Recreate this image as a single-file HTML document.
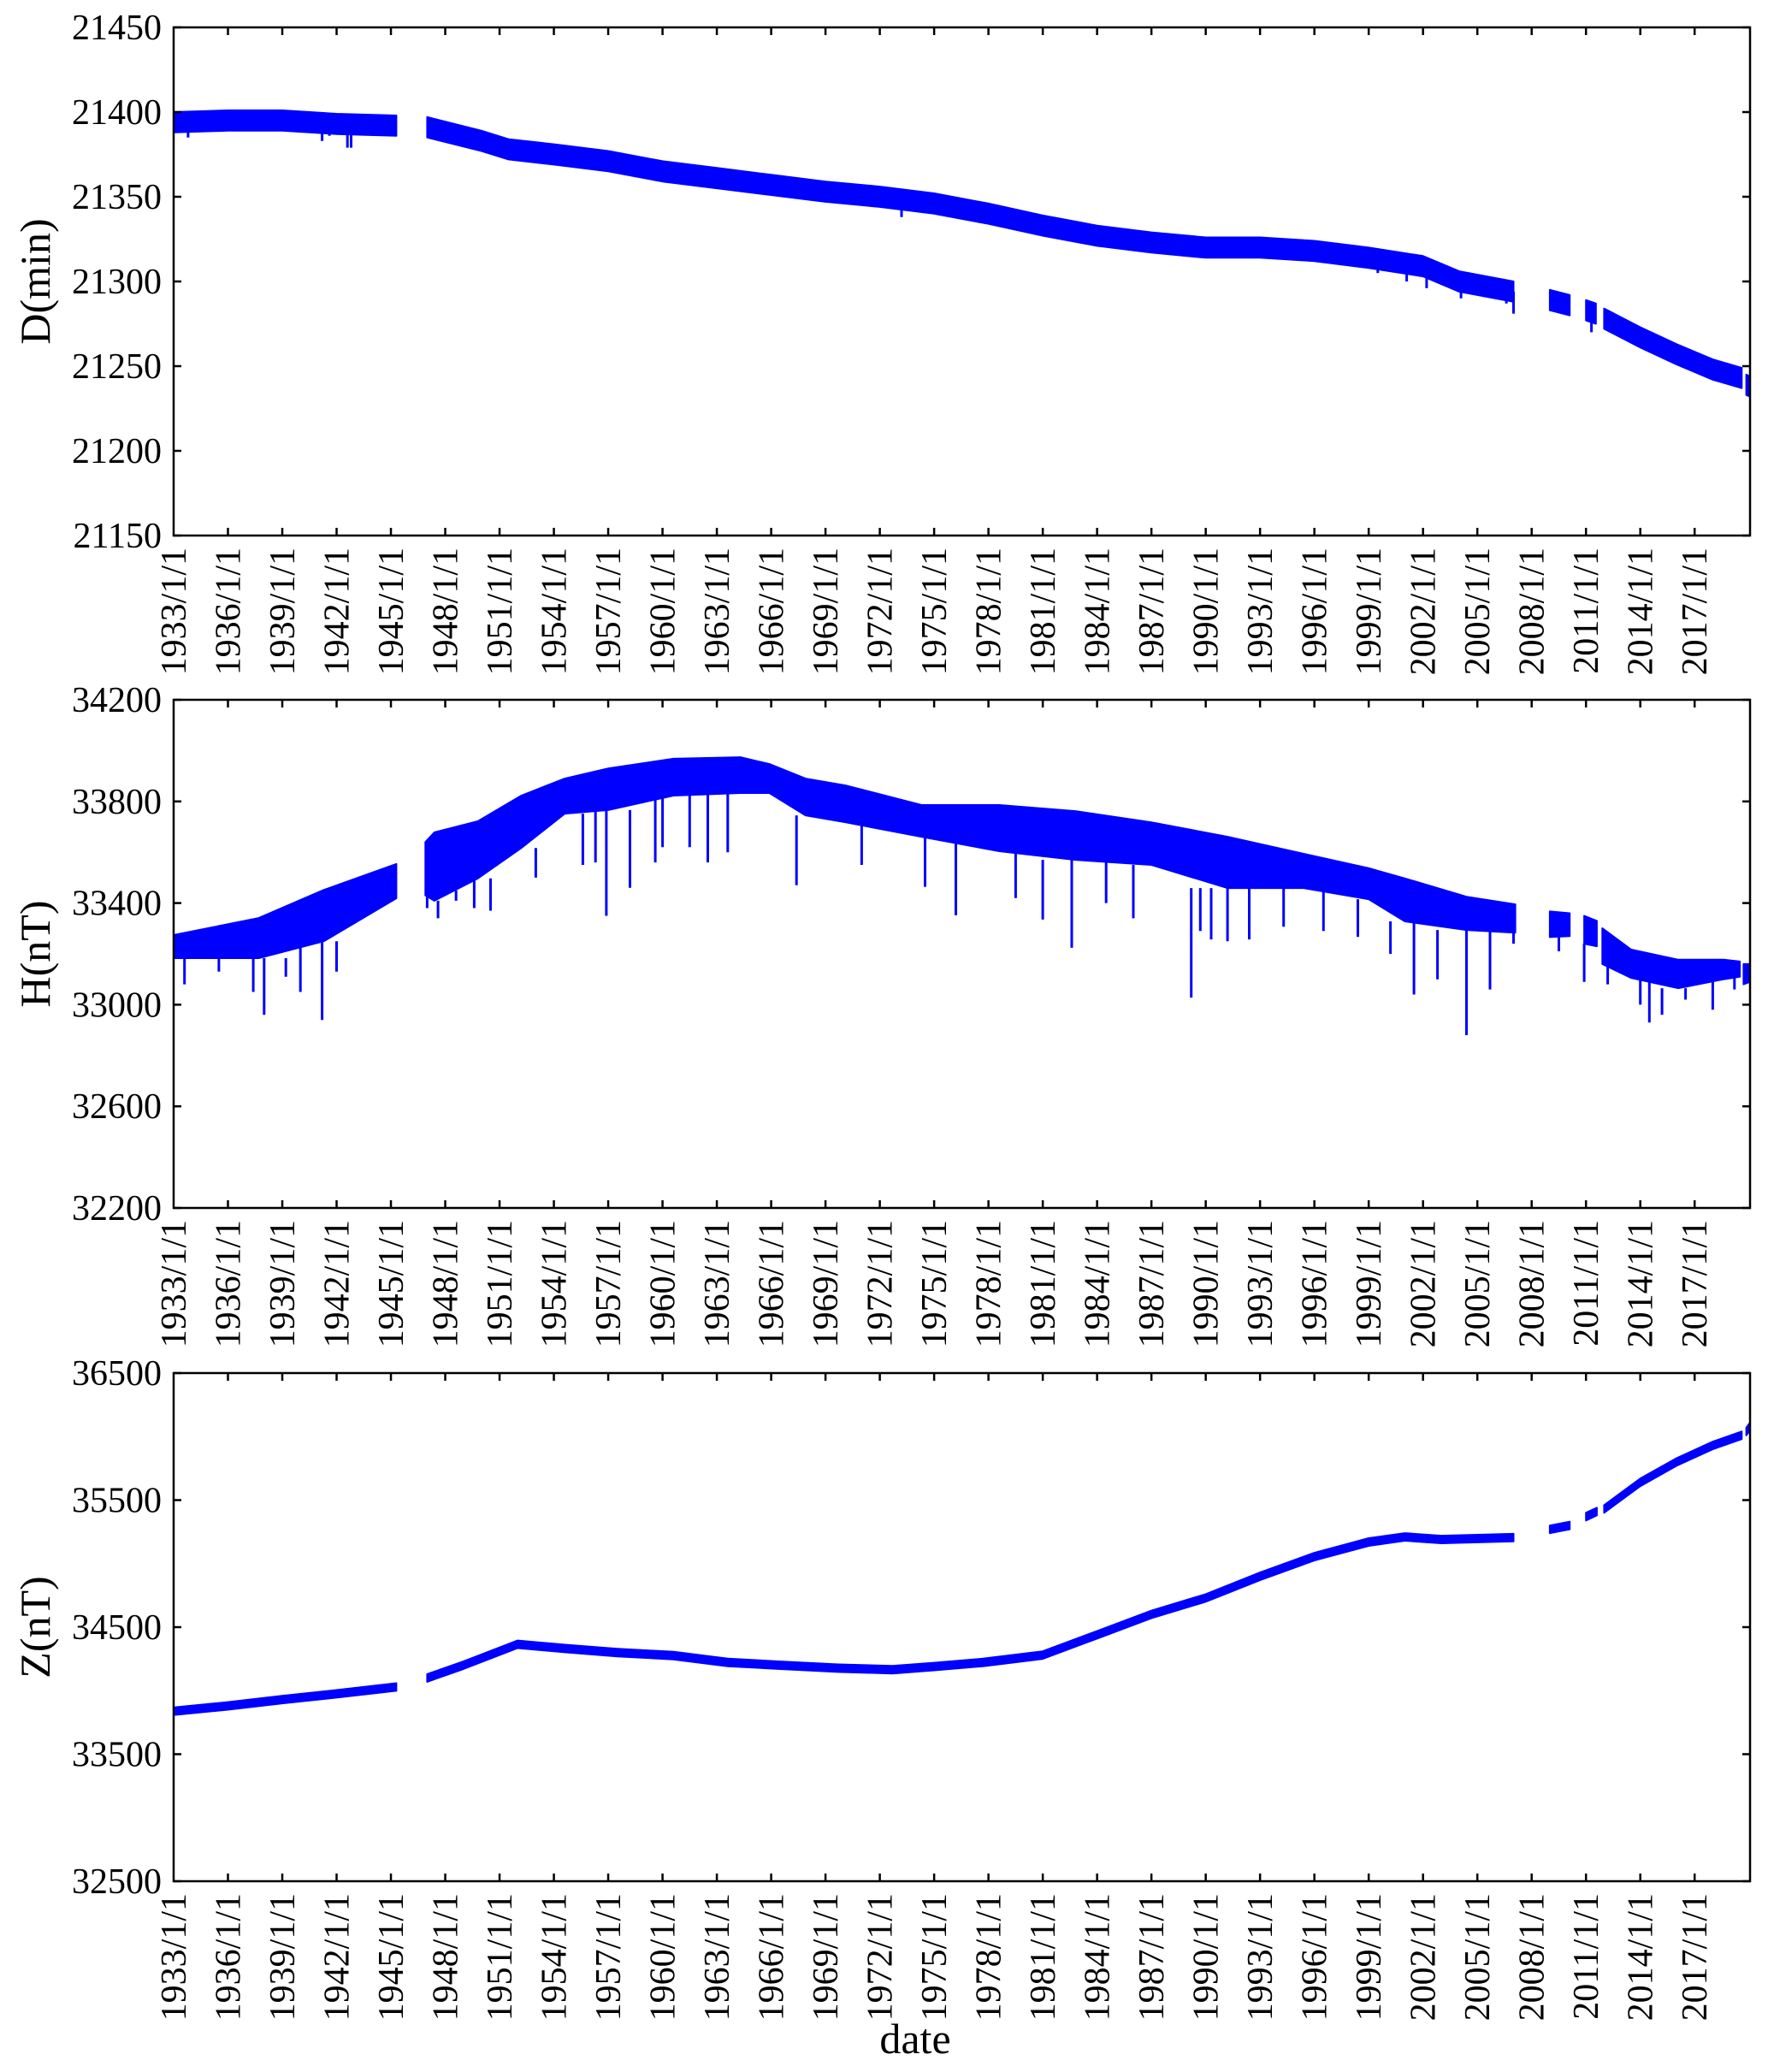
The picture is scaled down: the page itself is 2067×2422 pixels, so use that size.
<!DOCTYPE html>
<html><head><meta charset="utf-8"><style>
html,body{margin:0;padding:0;background:#fff;}
svg{display:block;font-family:"Liberation Serif","DejaVu Serif",serif;}
</style></head><body>
<svg id="fig" width="2067" height="2422" viewBox="0 0 2067 2422" xmlns="http://www.w3.org/2000/svg"></svg>
<script>
// ---------- shared axis data ----------
const xTickYears = [1933,1936,1939,1942,1945,1948,1951,1954,1957,1960,1963,1966,1969,1972,1975,1978,1981,1984,1987,1990,1993,1996,1999,2002,2005,2008,2011,2014,2017];
const xMin = 1933, xMax = 2020.06;

// ---------- panel D ----------
const dTicks = [21150,21200,21250,21300,21350,21400,21450];
const dYears = [1933,1936,1939,1942,1945.3,NaN,1947,1950,1951.5,1954,1957,1960,1963,1966,1969,1972,1975,1978,1981,1984,1987,1990,1993,1996,1999,2002,2004,2007.0,NaN,2009.0,2010.1,NaN,2011.0,2011.55,NaN,2012.0,2014,2016,2018,2019.6,NaN,2019.85,2020.06];
const dVals  = [21394,21395,21395,21393,21392,NaN,21391,21383,21378,21375,21371,21365,21361,21357,21353,21350,21346,21340,21333,21327,21323,21320,21320,21318,21314,21309,21300,21294,NaN,21289,21286,NaN,21283,21281,NaN,21278,21267,21257,21248,21243,NaN,21239,21238];
const dSpikeYears = [1933.8,1941.2,1941.6,1942.6,1942.8,1944.5,1958.5,1973.2,1999.5,2001.1,2002.2,2004.1,2006.6,2007.0,2011.3];
const dSpikeVals  = [21385,21383,21386,21379,21379,21386,21366,21338,21305,21300,21296,21290,21287,21281,21270];

// ---------- panel H ----------
const hTicks = [32200,32600,33000,33400,33800,34200];
const hYears = [1933,1937.7,1941.3,1945.3,NaN,1946.9,1947.4,1949.8,1952.2,1954.6,1957,1960.6,1964.3,1965.9,1967.9,1970.1,1974.3,1978.6,1982.8,1987,1991.2,1995.4,1999,2001,2004.4,2007.1,NaN,2009.0,2010.1,NaN,2010.9,2011.6,NaN,2011.9,2013.5,2016.1,2018.6,2019.5,NaN,2019.7,2020.06];
const hTop = [33274,33341,33452,33554,NaN,33640,33678,33722,33823,33890,33930,33968,33974,33947,33890,33863,33786,33786,33762,33718,33661,33594,33537,33497,33425,33395,NaN,33367,33360,NaN,33350,33330,NaN,33301,33217,33177,33177,33170,NaN,33160,33160];
const hBot = [33183,33183,33250,33419,NaN,33430,33409,33497,33617,33752,33766,33823,33833,33833,33745,33718,33661,33604,33570,33550,33459,33459,33415,33328,33294,33283,NaN,33266,33270,NaN,33240,33230,NaN,33160,33105,33065,33100,33110,NaN,33080,33090];
const hSpikeYears = [1933.6,1935.5,1937.4,1938.0,1939.2,1940.0,1941.2,1942.0,1947.0,1947.6,1948.6,1949.6,1950.5,1953.0,1955.6,1956.3,1956.9,1958.2,1959.6,1960.0,1961.5,1962.5,1963.6,1967.4,1971,1974.5,1976.2,1979.5,1981,1982.6,1984.5,1986,1989.2,1989.7,1990.3,1991.2,1992.4,1994.3,1996.5,1998.4,2000.2,2001.5,2002.8,2004.4,2005.7,2007.0,2009.5,2010.9,2012.2,2014.0,2014.5,2015.2,2016.5,2018.0,2019.2];
const hSpikeVals  = [33080,33130,33050,32960,33110,33050,32940,33130,33380,33340,33450,33380,33370,33500,33550,33560,33350,33460,33560,33620,33620,33560,33600,33470,33550,33464,33352,33420,33335,33224,33400,33340,33028,33290,33257,33250,33257,33307,33290,33267,33200,33040,33100,32880,33060,33240,33210,33090,33080,33000,32930,32960,33020,32980,33060];

// ---------- panel Z ----------
const zTicks = [32500,33500,34500,35500,36500];
const zYears = [1933.1,1936,1939,1942,1945.3,NaN,1947.0,1949,1952.0,1954.6,1957.5,1960.6,1963.6,1966.5,1969.7,1972.7,1975,1977.7,1981,1984,1987,1990,1993,1996,1999,2001,2003,2007.0,NaN,2009.0,2010.1,NaN,2011.0,2011.6,NaN,2012.0,2014,2016,2018,2019.6,NaN,2019.85,2020.06];
const zVals  = [33840,33880,33930,33975,34029,NaN,34100,34200,34365,34332,34300,34276,34222,34200,34177,34165,34190,34222,34280,34440,34600,34730,34900,35055,35170,35210,35190,35205,NaN,35270,35300,NaN,35370,35410,NaN,35430,35640,35800,35930,36010,NaN,36040,36080];

// ---------- layout ----------
const L = 203, R = 2046;
const panels = [
  {name:'declination', title:'D(min)', top:32, bot:626, ticks:dTicks, min:21150, max:21450},
  {name:'horizontal', title:'H(nT)', top:818, bot:1412, ticks:hTicks, min:32200, max:34200},
  {name:'vertical', title:'Z(nT)', top:1605, bot:2199, ticks:zTicks, min:32500, max:36500}
];
const NS = 'http://www.w3.org/2000/svg';
const svg = document.getElementById('fig');
function mk(tag, attrs, parent){
  const e = document.createElementNS(NS, tag);
  for (const k in attrs) e.setAttribute(k, attrs[k]);
  (parent||svg).appendChild(e);
  return e;
}
const xs = y => L + (y - xMin) / (xMax - xMin) * (R - L);
function ysFor(p){ return v => p.bot - (v - p.min) / (p.max - p.min) * (p.bot - p.top); }

function bandPath(years, top, bot, ys){
  let d = '', segs = [], cur = [];
  for (let i=0;i<years.length;i++){
    if (isNaN(years[i])) { if (cur.length) segs.push(cur); cur=[]; }
    else cur.push(i);
  }
  if (cur.length) segs.push(cur);
  segs.forEach(s=>{
    s.forEach((i,k)=>{ d += (k?'L':'M') + xs(years[i]).toFixed(1)+','+ys(top[i]).toFixed(1); });
    for (let k=s.length-1;k>=0;k--){ const i=s[k]; d += 'L'+xs(years[i]).toFixed(1)+','+ys(bot[i]).toFixed(1); }
    d += 'Z';
  });
  return d;
}

panels.forEach((p, idx) => {
  const ys = ysFor(p);
  const g = mk('g', {});
  
  

  let dpath;
  if (idx === 0) {
    const up = dVals.map(v=>v+6), lo = dVals.map(v=>v-6);
    dpath = bandPath(dYears, up, lo, ys);
  } else if (idx === 1) {
    dpath = bandPath(hYears, hTop, hBot, ys);
  } else {
    const up = zVals.map(v=>v+30), lo = zVals.map(v=>v-30);
    dpath = bandPath(zYears, up, lo, ys);
  }
  const series = mk('path', {d:dpath, fill:'#0000ff', stroke:'#0000ff', 'stroke-width':2, 'stroke-linejoin':'round'}, g);
  
  

  if (idx === 0 || idx === 1) {
    const sy = idx===0 ? dSpikeYears : hSpikeYears;
    const sv = idx===0 ? dSpikeVals : hSpikeVals;
    const baseY = idx===0 ? dYears : hYears;
    const baseV = idx===0 ? dVals : hBot;
    let sd = '';
    for (let i=0;i<sy.length;i++){
      let b = null, bd = 1e9;
      for (let j=0;j<baseY.length;j++){ if(!isNaN(baseY[j]) && Math.abs(baseY[j]-sy[i])<bd){bd=Math.abs(baseY[j]-sy[i]); b=baseV[j];} }
      sd += 'M'+xs(sy[i]).toFixed(1)+','+ys(b).toFixed(1)+'V'+ys(sv[i]).toFixed(1);
    }
    const sp = mk('path', {d:sd, stroke:'#0000ff', 'stroke-width':3, fill:'none'}, g);
    
    
  }

  const fr = mk('rect', {x:L, y:p.top, width:R-L, height:p.bot-p.top, fill:'none', stroke:'#000', 'stroke-width':2.5}, g);
  
  

  p.ticks.forEach(t => {
    const y = ys(t);
    mk('line', {x1:L, x2:L+9, y1:y, y2:y, stroke:'#000', 'stroke-width':2.5}, g);
    mk('line', {x1:R-9, x2:R, y1:y, y2:y, stroke:'#000', 'stroke-width':2.5}, g);
    const tx = mk('text', {x:L-14, y:y+14, 'text-anchor':'end', 'font-size':42, fill:'#000'}, g);
    tx.textContent = t;
    
    
  });
  xTickYears.forEach(yr => {
    const x = xs(yr);
    if (yr !== 1933) {
      mk('line', {x1:x, x2:x, y1:p.bot, y2:p.bot-9, stroke:'#000', 'stroke-width':2.5}, g);
      mk('line', {x1:x, x2:x, y1:p.top, y2:p.top+9, stroke:'#000', 'stroke-width':2.5}, g);
    }
    const ly = p.bot + 14;
    const tx = mk('text', {x:0, y:0, 'text-anchor':'end', 'font-size':42, fill:'#000', transform:'translate('+(x+14)+','+ly+') rotate(-90)'}, g);
    tx.textContent = yr + '/1/1';
    
    
  });
  const cy = (p.top + p.bot) / 2;
  const yt = mk('text', {x:0, y:0, 'text-anchor':'middle', 'font-size':50, fill:'#000', transform:'translate(58,'+cy+') rotate(-90)'}, g);
  yt.textContent = p.title;
  
  
});

const xt = mk('text', {x:1070, y:2400, 'text-anchor':'middle', 'font-size':50, fill:'#000'});
xt.textContent = 'date';


</script>
</body></html>
